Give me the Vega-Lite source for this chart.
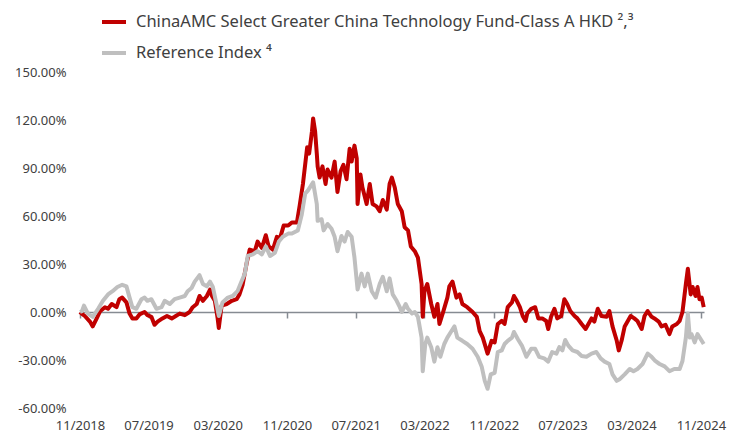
{
  "$schema": "https://vega.github.io/schema/vega-lite/v6.json",
  "width": 624,
  "height": 336,
  "autosize": {"type": "none"},
  "padding": {"left": 80, "top": 72, "right": 32, "bottom": 28},
  "background": "white",
  "config": {"view": {"stroke": null}, "font": "Noto Sans"},
  "datasets": {
    "fund": [
      {"date": "2018-11-01", "value": 0}, {"date": "2018-11-08", "value": -1.2}, {"date": "2018-11-18", "value": -2.5},
      {"date": "2018-12-06", "value": -6}, {"date": "2018-12-16", "value": -9}, {"date": "2018-12-30", "value": -4},
      {"date": "2019-01-11", "value": 0.5}, {"date": "2019-01-28", "value": 3}, {"date": "2019-02-08", "value": 2},
      {"date": "2019-02-21", "value": 5}, {"date": "2019-03-10", "value": 3}, {"date": "2019-03-20", "value": 8},
      {"date": "2019-03-30", "value": 9}, {"date": "2019-04-14", "value": 6}, {"date": "2019-04-25", "value": -1},
      {"date": "2019-05-05", "value": -4}, {"date": "2019-05-19", "value": -4}, {"date": "2019-05-30", "value": -1.5},
      {"date": "2019-06-17", "value": 0}, {"date": "2019-06-27", "value": -2}, {"date": "2019-07-11", "value": -3},
      {"date": "2019-07-22", "value": -8}, {"date": "2019-08-02", "value": -6}, {"date": "2019-08-19", "value": -4},
      {"date": "2019-09-04", "value": -2.5}, {"date": "2019-09-21", "value": -4}, {"date": "2019-10-01", "value": -3},
      {"date": "2019-10-19", "value": -1}, {"date": "2019-11-06", "value": -2}, {"date": "2019-11-23", "value": 0},
      {"date": "2019-12-04", "value": 3}, {"date": "2019-12-18", "value": 5}, {"date": "2019-12-28", "value": 10},
      {"date": "2020-01-09", "value": 7}, {"date": "2020-01-23", "value": 10}, {"date": "2020-02-03", "value": 14},
      {"date": "2020-02-10", "value": 10}, {"date": "2020-02-20", "value": 7}, {"date": "2020-03-01", "value": -4},
      {"date": "2020-03-05", "value": -10}, {"date": "2020-03-15", "value": 4}, {"date": "2020-04-02", "value": 5},
      {"date": "2020-04-20", "value": 7}, {"date": "2020-05-07", "value": 8}, {"date": "2020-05-17", "value": 11},
      {"date": "2020-05-28", "value": 17}, {"date": "2020-06-12", "value": 31}, {"date": "2020-06-22", "value": 39},
      {"date": "2020-07-10", "value": 38}, {"date": "2020-07-20", "value": 44}, {"date": "2020-08-04", "value": 40},
      {"date": "2020-08-18", "value": 48}, {"date": "2020-08-28", "value": 41}, {"date": "2020-09-12", "value": 39},
      {"date": "2020-09-26", "value": 47}, {"date": "2020-10-07", "value": 46}, {"date": "2020-10-20", "value": 54},
      {"date": "2020-11-05", "value": 54}, {"date": "2020-11-18", "value": 56}, {"date": "2020-12-06", "value": 56},
      {"date": "2020-12-16", "value": 67}, {"date": "2020-12-27", "value": 80}, {"date": "2021-01-11", "value": 103},
      {"date": "2021-01-18", "value": 99}, {"date": "2021-01-28", "value": 113}, {"date": "2021-02-01", "value": 121},
      {"date": "2021-02-08", "value": 113}, {"date": "2021-02-14", "value": 99}, {"date": "2021-02-17", "value": 91},
      {"date": "2021-02-24", "value": 84}, {"date": "2021-03-06", "value": 91}, {"date": "2021-03-17", "value": 80},
      {"date": "2021-03-24", "value": 89}, {"date": "2021-04-07", "value": 84}, {"date": "2021-04-18", "value": 94},
      {"date": "2021-04-28", "value": 75}, {"date": "2021-05-09", "value": 88}, {"date": "2021-05-19", "value": 92},
      {"date": "2021-05-30", "value": 83}, {"date": "2021-06-10", "value": 102}, {"date": "2021-06-17", "value": 94},
      {"date": "2021-06-27", "value": 104}, {"date": "2021-07-05", "value": 96}, {"date": "2021-07-08", "value": 67.5},
      {"date": "2021-07-18", "value": 86}, {"date": "2021-07-25", "value": 78}, {"date": "2021-08-09", "value": 67.5},
      {"date": "2021-08-20", "value": 80}, {"date": "2021-08-30", "value": 67.5}, {"date": "2021-09-13", "value": 66},
      {"date": "2021-09-24", "value": 63}, {"date": "2021-10-05", "value": 70}, {"date": "2021-10-19", "value": 64},
      {"date": "2021-10-29", "value": 80}, {"date": "2021-11-06", "value": 84}, {"date": "2021-11-16", "value": 78},
      {"date": "2021-11-27", "value": 67.5}, {"date": "2021-12-11", "value": 63}, {"date": "2021-12-21", "value": 53},
      {"date": "2022-01-02", "value": 51}, {"date": "2022-01-12", "value": 41}, {"date": "2022-01-26", "value": 38},
      {"date": "2022-02-06", "value": 34}, {"date": "2022-02-19", "value": 17.5}, {"date": "2022-02-23", "value": -3},
      {"date": "2022-03-01", "value": 13}, {"date": "2022-03-11", "value": 17.5}, {"date": "2022-03-25", "value": 5},
      {"date": "2022-04-05", "value": -3}, {"date": "2022-04-16", "value": 5}, {"date": "2022-04-23", "value": -7.5},
      {"date": "2022-05-07", "value": 0.5}, {"date": "2022-05-21", "value": 9}, {"date": "2022-05-28", "value": 16},
      {"date": "2022-06-08", "value": 19}, {"date": "2022-06-22", "value": 9}, {"date": "2022-07-03", "value": 11},
      {"date": "2022-07-13", "value": 5}, {"date": "2022-07-30", "value": 3}, {"date": "2022-08-18", "value": 0},
      {"date": "2022-09-02", "value": -3}, {"date": "2022-09-12", "value": -12}, {"date": "2022-09-23", "value": -16},
      {"date": "2022-10-10", "value": -26}, {"date": "2022-10-24", "value": -18}, {"date": "2022-11-04", "value": -19},
      {"date": "2022-11-15", "value": -7.5}, {"date": "2022-11-29", "value": -5.6}, {"date": "2022-12-09", "value": -7.5},
      {"date": "2022-12-20", "value": 3}, {"date": "2023-01-04", "value": 6}, {"date": "2023-01-11", "value": 10},
      {"date": "2023-01-21", "value": 7}, {"date": "2023-02-01", "value": 3}, {"date": "2023-02-11", "value": -2.5},
      {"date": "2023-02-21", "value": -5.6}, {"date": "2023-02-27", "value": -1}, {"date": "2023-03-13", "value": 2},
      {"date": "2023-03-27", "value": 3}, {"date": "2023-04-07", "value": -4}, {"date": "2023-04-21", "value": -4},
      {"date": "2023-05-05", "value": -5.6}, {"date": "2023-05-12", "value": -10.6}, {"date": "2023-05-22", "value": -3},
      {"date": "2023-06-03", "value": 2}, {"date": "2023-06-13", "value": -4}, {"date": "2023-06-27", "value": -2.5},
      {"date": "2023-07-08", "value": 8}, {"date": "2023-07-18", "value": 5}, {"date": "2023-07-29", "value": 0.6},
      {"date": "2023-08-13", "value": -2.5}, {"date": "2023-08-23", "value": -4}, {"date": "2023-09-07", "value": -7.5},
      {"date": "2023-09-21", "value": -10.6}, {"date": "2023-10-01", "value": -7.5}, {"date": "2023-10-12", "value": -4},
      {"date": "2023-10-22", "value": -6}, {"date": "2023-11-03", "value": 2}, {"date": "2023-11-16", "value": -2.5},
      {"date": "2023-12-04", "value": -3}, {"date": "2023-12-14", "value": 0.6}, {"date": "2023-12-25", "value": -9},
      {"date": "2024-01-09", "value": -18}, {"date": "2024-01-16", "value": -24}, {"date": "2024-01-26", "value": -18},
      {"date": "2024-02-06", "value": -9}, {"date": "2024-02-17", "value": -5.6}, {"date": "2024-02-27", "value": -2.5},
      {"date": "2024-03-11", "value": -4}, {"date": "2024-03-22", "value": -5.6}, {"date": "2024-04-06", "value": -10.6},
      {"date": "2024-04-16", "value": -2.5}, {"date": "2024-04-27", "value": 0.6}, {"date": "2024-05-11", "value": -3},
      {"date": "2024-05-21", "value": -4}, {"date": "2024-06-05", "value": -6}, {"date": "2024-06-15", "value": -9},
      {"date": "2024-06-29", "value": -8}, {"date": "2024-07-13", "value": -13.8}, {"date": "2024-07-23", "value": -9},
      {"date": "2024-08-08", "value": -7.5}, {"date": "2024-08-18", "value": -5.6}, {"date": "2024-08-28", "value": 0},
      {"date": "2024-09-09", "value": 17.5}, {"date": "2024-09-16", "value": 27}, {"date": "2024-09-26", "value": 11},
      {"date": "2024-10-03", "value": 15.6}, {"date": "2024-10-13", "value": 10}, {"date": "2024-10-20", "value": 15.6},
      {"date": "2024-10-27", "value": 8}, {"date": "2024-11-04", "value": 9}, {"date": "2024-11-11", "value": 3}
    ],
    "index": [
      {"date": "2018-11-01", "value": 0}, {"date": "2018-11-08", "value": 0.5}, {"date": "2018-11-15", "value": 4},
      {"date": "2018-11-29", "value": -1}, {"date": "2018-12-16", "value": -3}, {"date": "2019-01-04", "value": 2},
      {"date": "2019-01-21", "value": 7}, {"date": "2019-02-08", "value": 11}, {"date": "2019-02-24", "value": 13},
      {"date": "2019-03-13", "value": 15.6}, {"date": "2019-03-30", "value": 17}, {"date": "2019-04-14", "value": 16},
      {"date": "2019-04-25", "value": 9}, {"date": "2019-05-05", "value": 3}, {"date": "2019-05-19", "value": 2},
      {"date": "2019-06-06", "value": 8}, {"date": "2019-06-17", "value": 9}, {"date": "2019-06-27", "value": 7},
      {"date": "2019-07-11", "value": 8}, {"date": "2019-07-29", "value": 2}, {"date": "2019-08-16", "value": 3},
      {"date": "2019-08-27", "value": 7}, {"date": "2019-09-14", "value": 5}, {"date": "2019-10-01", "value": 8},
      {"date": "2019-10-19", "value": 9}, {"date": "2019-11-06", "value": 10}, {"date": "2019-11-16", "value": 13},
      {"date": "2019-11-30", "value": 15}, {"date": "2019-12-11", "value": 19}, {"date": "2019-12-28", "value": 23},
      {"date": "2020-01-09", "value": 17.5}, {"date": "2020-01-23", "value": 16}, {"date": "2020-02-03", "value": 19},
      {"date": "2020-02-13", "value": 15.6}, {"date": "2020-02-27", "value": 4}, {"date": "2020-03-05", "value": -2.5},
      {"date": "2020-03-18", "value": 6}, {"date": "2020-04-06", "value": 9}, {"date": "2020-04-23", "value": 10},
      {"date": "2020-05-10", "value": 13}, {"date": "2020-05-24", "value": 19}, {"date": "2020-06-05", "value": 24},
      {"date": "2020-06-15", "value": 35}, {"date": "2020-07-03", "value": 36}, {"date": "2020-07-20", "value": 38},
      {"date": "2020-08-04", "value": 36}, {"date": "2020-08-18", "value": 41}, {"date": "2020-09-02", "value": 35},
      {"date": "2020-09-19", "value": 37}, {"date": "2020-10-03", "value": 44}, {"date": "2020-10-17", "value": 47},
      {"date": "2020-11-05", "value": 49}, {"date": "2020-11-18", "value": 49}, {"date": "2020-12-09", "value": 51},
      {"date": "2020-12-23", "value": 61}, {"date": "2021-01-04", "value": 74}, {"date": "2021-01-14", "value": 76},
      {"date": "2021-02-01", "value": 81}, {"date": "2021-02-14", "value": 67.5}, {"date": "2021-02-17", "value": 57},
      {"date": "2021-03-03", "value": 58}, {"date": "2021-03-10", "value": 51}, {"date": "2021-03-24", "value": 55},
      {"date": "2021-04-07", "value": 52}, {"date": "2021-04-18", "value": 47}, {"date": "2021-04-28", "value": 38},
      {"date": "2021-05-12", "value": 47.5}, {"date": "2021-05-23", "value": 44}, {"date": "2021-06-03", "value": 50},
      {"date": "2021-06-17", "value": 47}, {"date": "2021-06-27", "value": 34}, {"date": "2021-07-08", "value": 14},
      {"date": "2021-07-22", "value": 24}, {"date": "2021-08-02", "value": 16}, {"date": "2021-08-13", "value": 24},
      {"date": "2021-08-27", "value": 13}, {"date": "2021-09-10", "value": 9}, {"date": "2021-09-24", "value": 17.5},
      {"date": "2021-10-05", "value": 22}, {"date": "2021-10-19", "value": 13}, {"date": "2021-10-29", "value": 21},
      {"date": "2021-11-09", "value": 11}, {"date": "2021-11-23", "value": 7}, {"date": "2021-12-04", "value": 3},
      {"date": "2021-12-11", "value": 0}, {"date": "2021-12-25", "value": 5}, {"date": "2022-01-02", "value": 2},
      {"date": "2022-01-16", "value": -1}, {"date": "2022-01-26", "value": 0}, {"date": "2022-02-06", "value": -3},
      {"date": "2022-02-19", "value": -16}, {"date": "2022-02-23", "value": -37}, {"date": "2022-03-04", "value": -20},
      {"date": "2022-03-11", "value": -16}, {"date": "2022-03-25", "value": -22}, {"date": "2022-04-05", "value": -31},
      {"date": "2022-04-16", "value": -22}, {"date": "2022-04-26", "value": -28}, {"date": "2022-05-10", "value": -20},
      {"date": "2022-05-21", "value": -16}, {"date": "2022-06-04", "value": -12}, {"date": "2022-06-15", "value": -9},
      {"date": "2022-06-25", "value": -16}, {"date": "2022-07-13", "value": -18}, {"date": "2022-07-30", "value": -20},
      {"date": "2022-08-18", "value": -23}, {"date": "2022-09-05", "value": -28}, {"date": "2022-09-19", "value": -34},
      {"date": "2022-09-30", "value": -43}, {"date": "2022-10-10", "value": -48}, {"date": "2022-10-21", "value": -39},
      {"date": "2022-11-04", "value": -38}, {"date": "2022-11-15", "value": -25}, {"date": "2022-11-29", "value": -24},
      {"date": "2022-12-09", "value": -20}, {"date": "2022-12-20", "value": -18}, {"date": "2023-01-04", "value": -16},
      {"date": "2023-01-11", "value": -12.5}, {"date": "2023-01-25", "value": -17}, {"date": "2023-02-08", "value": -21},
      {"date": "2023-02-24", "value": -28}, {"date": "2023-03-13", "value": -23}, {"date": "2023-03-27", "value": -23},
      {"date": "2023-04-10", "value": -28}, {"date": "2023-04-28", "value": -29}, {"date": "2023-05-12", "value": -31},
      {"date": "2023-05-26", "value": -25}, {"date": "2023-06-10", "value": -26}, {"date": "2023-06-20", "value": -22},
      {"date": "2023-07-01", "value": -24}, {"date": "2023-07-11", "value": -17.5}, {"date": "2023-07-22", "value": -21},
      {"date": "2023-08-06", "value": -24}, {"date": "2023-08-23", "value": -25}, {"date": "2023-09-07", "value": -27.5},
      {"date": "2023-09-24", "value": -28}, {"date": "2023-10-12", "value": -26}, {"date": "2023-10-29", "value": -25},
      {"date": "2023-11-13", "value": -29}, {"date": "2023-11-27", "value": -31}, {"date": "2023-12-14", "value": -32.5},
      {"date": "2023-12-25", "value": -39}, {"date": "2024-01-09", "value": -43}, {"date": "2024-01-19", "value": -42},
      {"date": "2024-02-06", "value": -39}, {"date": "2024-02-24", "value": -35.6}, {"date": "2024-03-08", "value": -37},
      {"date": "2024-03-22", "value": -35.6}, {"date": "2024-04-09", "value": -32.5}, {"date": "2024-04-27", "value": -26},
      {"date": "2024-05-11", "value": -28}, {"date": "2024-05-24", "value": -30.6}, {"date": "2024-06-08", "value": -32.5},
      {"date": "2024-06-26", "value": -34}, {"date": "2024-07-13", "value": -37}, {"date": "2024-07-30", "value": -35.6},
      {"date": "2024-08-18", "value": -35.6}, {"date": "2024-08-28", "value": -30.6}, {"date": "2024-09-09", "value": -16},
      {"date": "2024-09-16", "value": -1}, {"date": "2024-09-23", "value": -16}, {"date": "2024-09-29", "value": -13.8},
      {"date": "2024-10-10", "value": -19}, {"date": "2024-10-20", "value": -13.8}, {"date": "2024-11-04", "value": -18},
      {"date": "2024-11-11", "value": -20}
    ]
  },
  "encoding": {
    "x": {
      "field": "date",
      "type": "temporal",
      "scale": {
        "type": "utc",
        "domain": [
          {"year": 2018, "month": 11, "date": 1, "utc": true},
          {"year": 2024, "month": 11, "date": 12, "utc": true}
        ]
      },
      "axis": {
        "title": null,
        "values": [
          {"year": 2018, "month": 11, "date": 1, "utc": true},
          {"year": 2019, "month": 7, "date": 1, "utc": true},
          {"year": 2020, "month": 3, "date": 1, "utc": true},
          {"year": 2020, "month": 11, "date": 1, "utc": true},
          {"year": 2021, "month": 7, "date": 1, "utc": true},
          {"year": 2022, "month": 3, "date": 1, "utc": true},
          {"year": 2022, "month": 11, "date": 1, "utc": true},
          {"year": 2023, "month": 7, "date": 1, "utc": true},
          {"year": 2024, "month": 3, "date": 1, "utc": true},
          {"year": 2024, "month": 11, "date": 1, "utc": true}
        ],
        "labelExpr": "utcFormat(datum.value, '%m/%Y')",
        "offset": -96,
        "grid": false,
        "domainColor": "#868b92",
        "domainWidth": 1.5,
        "tickColor": "#868b92",
        "tickWidth": 1.5,
        "tickSize": 6,
        "labelPadding": 101,
        "labelFlush": false,
        "labelOverlap": false,
        "labelFontSize": 13,
        "labelColor": "#404040"
      }
    },
    "y": {
      "field": "value",
      "type": "quantitative",
      "scale": {"domain": [-60, 150], "nice": false, "zero": false},
      "axis": {
        "title": null,
        "values": [-60, -30, 0, 30, 60, 90, 120, 150],
        "labelExpr": "(datum.value < 0 ? '-' : '') + format(abs(datum.value), '.2f') + '%'",
        "domain": false,
        "ticks": false,
        "grid": false,
        "labelPadding": 14,
        "labelFontSize": 13,
        "labelColor": "#404040"
      }
    }
  },
  "layer": [
    {
      "data": {"name": "fund"},
      "mark": {"type": "line", "strokeWidth": 4, "strokeJoin": "round"},
      "encoding": {
        "color": {
          "datum": "ChinaAMC Select Greater China Technology Fund-Class A HKD  ²,³",
          "scale": {
            "domain": ["ChinaAMC Select Greater China Technology Fund-Class A HKD  ²,³", "Reference Index ⁴"],
            "range": ["#C00000", "#BFBFBF"]
          },
          "legend": {
            "title": null,
            "orient": "none",
            "legendX": 20,
            "legendY": -64,
            "direction": "vertical",
            "symbolType": "stroke",
            "symbolStrokeWidth": 4,
            "symbolSize": 576,
            "labelFontSize": 16.5,
            "labelColor": "#404040",
            "labelOffset": 8,
            "rowPadding": 8,
            "padding": 0,
            "labelLimit": 0
          }
        }
      }
    },
    {
      "data": {"name": "index"},
      "mark": {"type": "line", "strokeWidth": 4, "strokeJoin": "round"},
      "encoding": {
        "color": {"datum": "Reference Index ⁴"}
      }
    }
  ]
}
